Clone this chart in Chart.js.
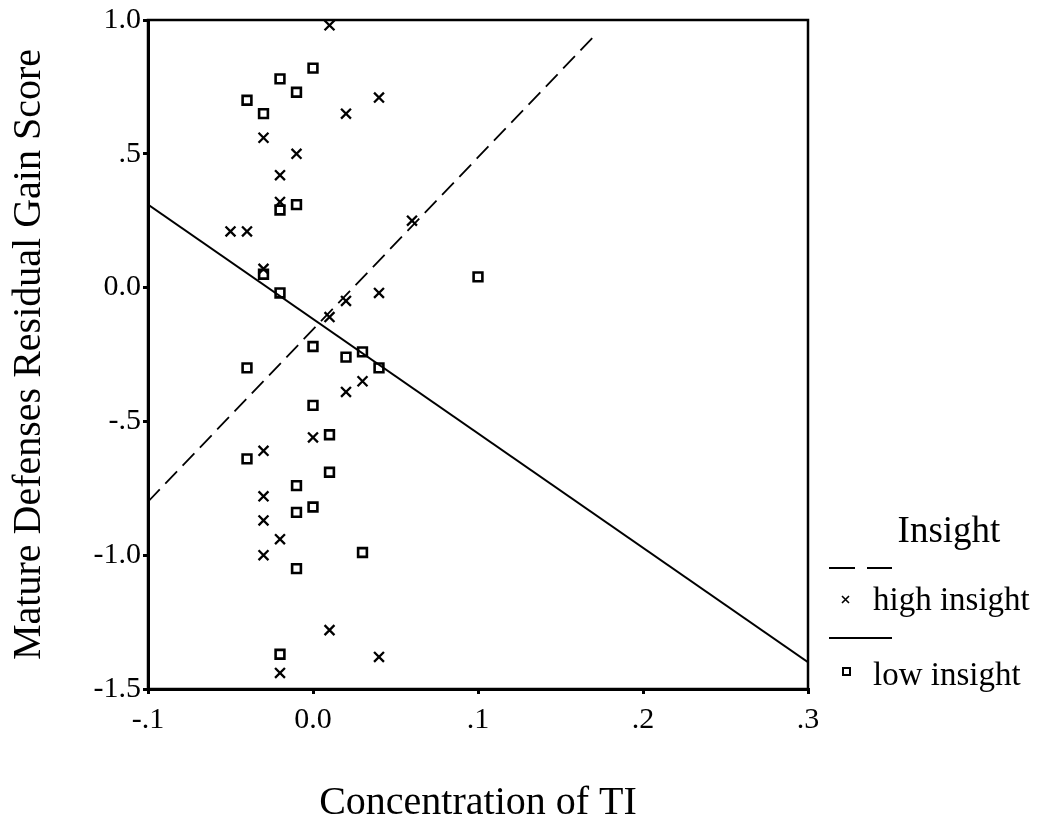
<!DOCTYPE html>
<html>
<head>
<meta charset="utf-8">
<script src="https://cdn.jsdelivr.net/npm/chart.js@4.4.1/dist/chart.umd.min.js"></script>
<style>
html,body{margin:0;padding:0;background:#fff;}
#wrap{width:1048px;height:830px;}
</style>
</head>
<body>
<div id="wrap"><canvas id="c" width="1048" height="830"></canvas></div>
<script>
// ---- data ----
const highX = [0.01, 0.04, 0.02, -0.03, -0.01, -0.02, -0.02, -0.05, -0.04, 0.06, -0.03, 0.04, 0.02, 0.01, 0.03, 0.02, 0.00, -0.03, -0.03, -0.03, -0.02, -0.03, 0.01, 0.04, -0.02];
const highY = [0.98, 0.71, 0.65, 0.56, 0.50, 0.42, 0.32, 0.21, 0.21, 0.25, 0.07, -0.02, -0.05, -0.11, -0.35, -0.39, -0.56, -0.61, -0.78, -0.87, -0.94, -1.00, -1.28, -1.38, -1.44];
const lowX = [0.00, -0.02, -0.01, -0.04, -0.03, -0.01, -0.02, -0.03, -0.02, 0.10, 0.00, 0.02, 0.03, 0.04, -0.04, 0.00, 0.01, -0.04, 0.01, -0.01, 0.00, -0.01, 0.03, -0.01, -0.02];
const lowY = [0.82, 0.78, 0.73, 0.70, 0.65, 0.31, 0.29, 0.05, -0.02, 0.04, -0.22, -0.26, -0.24, -0.30, -0.30, -0.44, -0.55, -0.64, -0.69, -0.74, -0.82, -0.84, -0.99, -1.05, -1.37];
const highFitX = [-0.1, 0.172];
const highFitY = [-0.80, 0.95];
const lowFitX = [-0.1, 0.3];
const lowFitY = [0.31, -1.40];
const xTickValues = [-0.1, 0.0, 0.1, 0.2, 0.3];
const xTickLabels = ['-.1', '0.0', '.1', '.2', '.3'];
const yTickValues = [-1.5, -1.0, -0.5, 0.0, 0.5, 1.0];
const yTickLabels = ['-1.5', '-1.0', '-.5', '0.0', '.5', '1.0'];
const xTitle = 'Concentration of TI';
const yTitle = 'Mature Defenses Residual Gain Score';
const legendTitle = 'Insight';
const seriesNames = ['high insight', 'low insight'];

const pts = (xs, ys) => xs.map((x, i) => ({x: x, y: ys[i]}));
const SERIF = '"Liberation Serif", "DejaVu Serif", serif';

function labelFor(values, labels, v) {
  for (let i = 0; i < values.length; i++) if (Math.abs(values[i] - v) < 1e-6) return labels[i];
  return '';
}

const boxPlugin = {
  id: 'box',
  afterDatasetsDraw(chart) {
    const a = chart.chartArea, ctx = chart.ctx;
    ctx.save();
    ctx.strokeStyle = '#000';
    ctx.lineWidth = 2.5;
    ctx.strokeRect(a.left, a.top, a.right - a.left, a.bottom - a.top);
    ctx.restore();
  }
};

const legendPlugin = {
  id: 'customLegend',
  afterDraw(chart) {
    const ctx = chart.ctx;
    ctx.save();
    ctx.fillStyle = '#000';
    ctx.strokeStyle = '#000';
    ctx.textBaseline = 'alphabetic';
    ctx.font = '37px ' + SERIF;
    ctx.textAlign = 'center';
    ctx.fillText(legendTitle, 949, 542);
    // dashed sample
    ctx.lineWidth = 2;
    ctx.beginPath();
    ctx.moveTo(829, 568); ctx.lineTo(855, 568);
    ctx.moveTo(867, 568); ctx.lineTo(892, 568);
    ctx.stroke();
    // x marker
    ctx.lineWidth = 1.6;
    ctx.beginPath();
    ctx.moveTo(842, 596); ctx.lineTo(849, 603);
    ctx.moveTo(849, 596); ctx.lineTo(842, 603);
    ctx.stroke();
    ctx.textAlign = 'left';
    ctx.font = '33px ' + SERIF;
    ctx.fillText(seriesNames[0], 873, 610);
    // solid sample
    ctx.lineWidth = 2;
    ctx.beginPath();
    ctx.moveTo(829, 638); ctx.lineTo(892, 638);
    ctx.stroke();
    // square marker
    ctx.lineWidth = 2;
    ctx.strokeRect(843, 668, 7, 7);
    ctx.fillText(seriesNames[1], 873, 685);
    ctx.restore();
  }
};

new Chart(document.getElementById('c'), {
  type: 'scatter',
  data: {
    datasets: [
      {
        label: seriesNames[0],
        data: pts(highX, highY),
        pointStyle: 'crossRot',
        pointRadius: 7,
        pointBorderWidth: 2.3,
        borderColor: '#000',
        backgroundColor: '#000'
      },
      {
        label: seriesNames[1],
        data: pts(lowX, lowY),
        pointStyle: 'rect',
        pointRadius: 6.2,
        pointBorderWidth: 2.6,
        borderColor: '#000',
        backgroundColor: 'rgba(0,0,0,0)'
      },
      {
        label: seriesNames[0] + ' fit',
        data: pts(highFitX, highFitY),
        type: 'line',
        showLine: true,
        pointRadius: 0,
        borderColor: '#000',
        borderWidth: 1.8,
        borderDash: [17, 8],
        fill: false
      },
      {
        label: seriesNames[1] + ' fit',
        data: pts(lowFitX, lowFitY),
        type: 'line',
        showLine: true,
        pointRadius: 0,
        borderColor: '#000',
        borderWidth: 2,
        fill: false
      }
    ]
  },
  options: {
    responsive: false,
    animation: false,
    devicePixelRatio: 1,
    layout: {padding: {left: 0, top: 19, right: 240, bottom: 0}},
    plugins: {legend: {display: false}, tooltip: {enabled: false}},
    scales: {
      x: {
        type: 'linear',
        min: -0.1, max: 0.3,
        afterBuildTicks(scale) { scale.ticks = xTickValues.map(v => ({value: v})); },
        afterFit(scale) { scale.height = 141; },
        ticks: {
          color: '#000',
          font: {family: SERIF, size: 30},
          padding: 8,
          maxRotation: 0,
          autoSkip: false,
          callback: v => labelFor(xTickValues, xTickLabels, v)
        },
        grid: {display: true, drawOnChartArea: false, drawTicks: true, tickLength: 5, color: '#000', lineWidth: 3},
        border: {display: true, color: '#000', width: 3},
        title: {display: true, text: xTitle, color: '#000', font: {family: SERIF, size: 40}, padding: {top: 0, bottom: 3}}
      },
      y: {
        type: 'linear',
        min: -1.5, max: 1.0,
        afterBuildTicks(scale) { scale.ticks = yTickValues.map(v => ({value: v})); },
        afterFit(scale) { scale.width = 148; },
        ticks: {
          color: '#000',
          font: {family: SERIF, size: 30},
          padding: 2,
          autoSkip: false,
          callback: v => labelFor(yTickValues, yTickLabels, v)
        },
        grid: {display: true, drawOnChartArea: false, drawTicks: true, tickLength: 5, color: '#000', lineWidth: 3},
        border: {display: true, color: '#000', width: 3},
        title: {display: true, text: yTitle, color: '#000', font: {family: SERIF, size: 40}, padding: {top: 5, bottom: 0}}
      }
    }
  },
  plugins: [boxPlugin, legendPlugin]
});
</script>
</body>
</html>
